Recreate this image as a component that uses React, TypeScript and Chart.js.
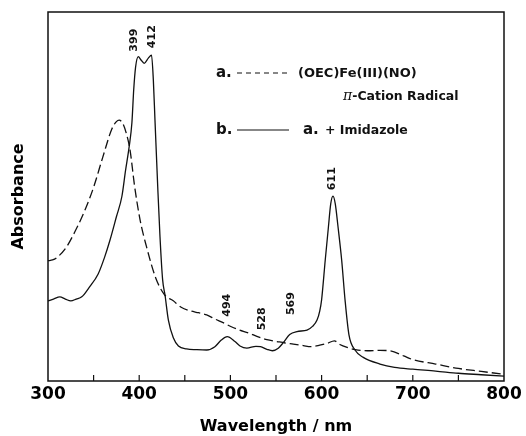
import React, { useEffect, useRef } from "react";
import { Chart, registerables } from "chart.js";

Chart.register(...registerables);

// Curve a: (OEC)Fe(III)(NO) pi-cation radical (dashed)
const wavelengthsA = [300, 305, 310, 320, 330, 340, 350, 360, 370, 375, 378, 382, 386, 390, 395, 401, 408, 418, 428, 437, 446, 456, 465, 474, 483, 492, 501, 510, 520, 529, 540, 551, 560, 569, 580, 588, 598, 606, 614, 620, 628, 637, 650, 664, 675, 690, 700, 725, 750, 775, 800];
const absorbanceA = [0.326, 0.328, 0.335, 0.362, 0.407, 0.46, 0.525, 0.606, 0.683, 0.703, 0.707, 0.698, 0.67, 0.625, 0.527, 0.436, 0.364, 0.28, 0.233, 0.218, 0.2, 0.19, 0.185, 0.179, 0.168, 0.158, 0.147, 0.138, 0.13, 0.121, 0.112, 0.107, 0.103, 0.1, 0.096, 0.093, 0.097, 0.102, 0.109, 0.099, 0.091, 0.085, 0.082, 0.083, 0.082, 0.068, 0.058, 0.046, 0.034, 0.026, 0.018];

// Curve b: a. + Imidazole (solid)
const wavelengthsB = [300, 306, 313, 319, 325, 331, 337, 345, 355, 362, 368, 375, 381, 385, 389, 392, 394, 396, 399, 402, 405.5, 410, 413.5, 415.5, 417.3, 420.3, 422.8, 425.7, 428.3, 432, 437.4, 443, 452, 463, 474, 483, 490, 496.5, 505, 510.5, 518, 528, 533, 540, 546, 552.5, 558, 565, 573, 584, 590, 595, 598, 600, 604, 607.5, 610, 612.5, 615, 618, 622, 625.7, 630, 636.6, 645.7, 664, 680, 700, 725, 750, 775, 800];
const absorbanceB = [0.217, 0.222, 0.228, 0.222, 0.217, 0.222, 0.228, 0.253, 0.29, 0.335, 0.382, 0.445, 0.5, 0.57, 0.635, 0.7, 0.79, 0.85, 0.879, 0.87, 0.861, 0.875, 0.883, 0.816, 0.707, 0.527, 0.391, 0.274, 0.233, 0.165, 0.117, 0.095, 0.087, 0.085, 0.084, 0.093, 0.111, 0.12, 0.107, 0.095, 0.089, 0.094, 0.093, 0.086, 0.082, 0.089, 0.104, 0.126, 0.134, 0.138, 0.148, 0.165, 0.19, 0.22, 0.328, 0.418, 0.48, 0.501, 0.48, 0.418, 0.328, 0.22, 0.125, 0.084, 0.064, 0.046, 0.037, 0.032, 0.027, 0.021, 0.017, 0.013];

// Peak annotations
const peakWavelengths = [399, 412, 494, 528, 569, 611];
const peakAbsorbance = [0.879, 0.883, 0.12, 0.094, 0.13, 0.501];
const peakLabels = ["399", "412", "494", "528", "569", "611"];

// Axis
const xMin = 300;
const xMax = 800;
const xStep = 50;
const xLabelStep = 100;

// Legend texts
const legendA = ["a.", "(OEC)Fe(III)(NO)", "π", "-Cation Radical"];
const legendB = ["b.", "a.", "+ Imidazole"];

const FONT = "'DejaVu Sans', 'Liberation Sans', sans-serif";
const INK = "#111";

// style-only offsets for the peak labels (px)
const peakDx = [-4, 1.5, 2, 6, -2, 1];
const peakLift = [5, 7, 20, 16, 18, 6];

const decorPlugin = {
  id: "decor",
  afterDatasetsDraw(chart: any) {
    const { ctx, chartArea, scales } = chart;
    const { left, right, top, bottom } = chartArea;
    const x = scales.x;
    const y = scales.y;
    ctx.save();
    // frame
    ctx.strokeStyle = INK;
    ctx.lineWidth = 1.5;
    ctx.setLineDash([]);
    ctx.strokeRect(left, top, right - left, bottom - top);
    // inward ticks
    ctx.lineWidth = 1.2;
    x.ticks.forEach((t: any) => {
      const px = x.getPixelForValue(t.value);
      if (px > left + 2 && px < right - 2) {
        ctx.beginPath();
        ctx.moveTo(px, bottom);
        ctx.lineTo(px, bottom - 6);
        ctx.stroke();
      }
    });
    // peak labels (rotated)
    ctx.fillStyle = INK;
    ctx.font = `bold 11px ${FONT}`;
    ctx.textAlign = "left";
    ctx.textBaseline = "middle";
    peakWavelengths.forEach((w, i) => {
      const px = x.getPixelForValue(w) + peakDx[i];
      const py = y.getPixelForValue(peakAbsorbance[i]) - peakLift[i];
      ctx.save();
      ctx.translate(px, py);
      ctx.rotate(-Math.PI / 2);
      ctx.fillText(peakLabels[i], 0, 0);
      ctx.restore();
    });
    // legend
    ctx.textBaseline = "alphabetic";
    ctx.textAlign = "left";
    ctx.font = `bold 15px ${FONT}`;
    ctx.fillText(legendA[0], 216, 77);
    ctx.fillText(legendB[0], 216, 134);
    ctx.lineWidth = 1.2;
    ctx.setLineDash([5, 4]);
    ctx.beginPath();
    ctx.moveTo(237, 73);
    ctx.lineTo(289, 73);
    ctx.stroke();
    ctx.setLineDash([]);
    ctx.beginPath();
    ctx.moveTo(237, 130);
    ctx.lineTo(289, 130);
    ctx.stroke();
    ctx.font = `bold 13px ${FONT}`;
    ctx.fillText(legendA[1], 298, 77);
    ctx.font = `italic 14px 'DejaVu Serif', serif`;
    ctx.fillText(legendA[2], 343, 100);
    const piW = ctx.measureText(legendA[2]).width;
    ctx.font = `bold 12.5px ${FONT}`;
    ctx.fillText(legendA[3], 343 + piW, 100);
    ctx.font = `bold 15px ${FONT}`;
    ctx.fillText(legendB[1], 303, 134);
    ctx.font = `bold 12.5px ${FONT}`;
    ctx.fillText(legendB[2], 325, 134);
    ctx.restore();
  },
};

export default function App() {
  const ref = useRef<HTMLCanvasElement | null>(null);
  useEffect(() => {
    if (!ref.current) return;
    const chart = new Chart(ref.current, {
      type: "line",
      data: {
        datasets: [
          {
            label: "a",
            data: wavelengthsA.map((w, i) => ({ x: w, y: absorbanceA[i] })),
            borderColor: INK,
            borderWidth: 1.3,
            borderDash: [9, 4],
            pointRadius: 0,
            fill: false,
            cubicInterpolationMode: "monotone",
          },
          {
            label: "b",
            data: wavelengthsB.map((w, i) => ({ x: w, y: absorbanceB[i] })),
            borderColor: INK,
            borderWidth: 1.3,
            pointRadius: 0,
            fill: false,
            cubicInterpolationMode: "monotone",
          },
        ],
      },
      options: {
        responsive: false,
        maintainAspectRatio: false,
        animation: false,
        devicePixelRatio: 1,
        layout: { padding: { top: 12, right: 22, left: 0, bottom: 0 } },
        plugins: { legend: { display: false }, tooltip: { enabled: false } },
        scales: {
          x: {
            type: "linear",
            min: xMin,
            max: xMax,
            grid: { display: false, drawTicks: false },
            border: { display: false },
            ticks: {
              stepSize: xStep,
              autoSkip: false,
              maxRotation: 0,
              padding: 3,
              color: "#000",
              font: { family: FONT, weight: "bold", size: 17 },
              callback: (v: any) => (Number(v) % xLabelStep === 0 ? String(v) : ""),
            },
            title: {
              display: true,
              text: "Wavelength / nm",
              color: "#000",
              font: { family: FONT, weight: "bold", size: 16 },
              padding: { top: 0, bottom: 0 },
            },
            afterFit: (s: any) => {
              s.height = 55;
            },
          },
          y: {
            min: 0,
            max: 1,
            grid: { display: false, drawTicks: false },
            border: { display: false },
            ticks: { display: false },
            title: {
              display: true,
              text: "Absorbance",
              color: "#000",
              font: { family: FONT, weight: "bold", size: 16 },
              padding: { top: 9, bottom: 0 },
            },
            afterFit: (s: any) => {
              s.width = 48;
            },
          },
        },
      } as any,
      plugins: [decorPlugin],
    });
    return () => chart.destroy();
  }, []);
  return (
    <div style={{ position: "absolute", left: 0, top: 0, width: 526, height: 436, background: "#fff" }}>
      <canvas ref={ref} width={526} height={436} style={{ display: "block" }} />
    </div>
  );
}
